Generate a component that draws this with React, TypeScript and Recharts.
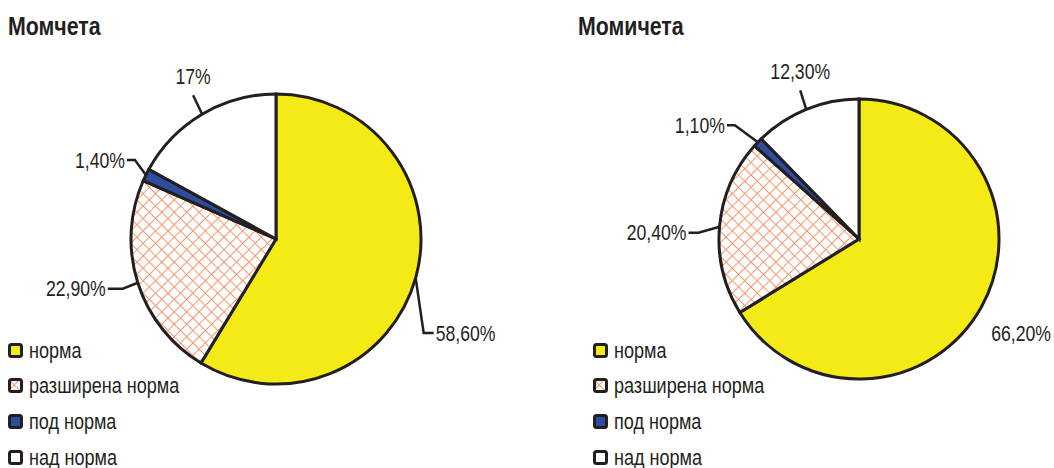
import React from "react";
import { PieChart, Pie, Cell, Legend } from "recharts";

const categories = ["норма", "разширена норма", "под норма", "над норма"];
const boysValues = [58.6, 22.9, 1.4, 17];
const boysLabels = ["58,60%", "22,90%", "1,40%", "17%"];
const girlsValues = [66.2, 20.4, 1.1, 12.3];
const girlsLabels = ["66,20%", "20,40%", "1,10%", "12,30%"];

const INK = "#231f20";
const HATCH = "#f7966a";
const FONT = '"Liberation Sans", Arial, sans-serif';
const SQUEEZE = 0.82; // fake a narrow face

// leader line layout per slice: elbow offset from arc point, horizontal run, text anchor
type Leader = { dx: number; dy: number; run: number; anchor: "start" | "end" | "middle"; noLine?: boolean };

const boysLeaders: Leader[] = [
  { dx: 8, dy: 55, run: 10, anchor: "start" },
  { dx: -15, dy: 6, run: -15, anchor: "end" },
  { dx: -11, dy: -15, run: -8, anchor: "end" },
  { dx: -9, dy: -19, run: 0, anchor: "middle" },
];
const girlsLeaders: Leader[] = [
  { dx: 10, dy: 26, run: 0, anchor: "start", noLine: true },
  { dx: -21, dy: 6, run: -10, anchor: "end" },
  { dx: -23, dy: -17, run: -8, anchor: "end" },
  { dx: -6, dy: -19, run: 0, anchor: "middle" },
];

const RAD = Math.PI / 180;

function fillFor(i: number, patId: string) {
  if (i === 0) return "#f4ea16";
  if (i === 1) return `url(#${patId})`;
  if (i === 2) return "#2f4d9e";
  return "#ffffff";
}

function HatchPattern({ id }: { id: string }) {
  return (
    <pattern id={id} width={8.8} height={8.8} patternUnits="userSpaceOnUse" patternTransform="rotate(45)">
      <rect width={8.8} height={8.8} fill="#fff" />
      <line x1={0} y1={0} x2={8.8} y2={0} stroke={HATCH} strokeWidth={2} />
      <line x1={0} y1={0} x2={0} y2={8.8} stroke={HATCH} strokeWidth={2} />
    </pattern>
  );
}

function makeLabel(labels: string[], leaders: Leader[]) {
  return (props: any) => {
    const { cx, cy, midAngle, outerRadius, index } = props;
    const cfg = leaders[index];
    const px = cx + outerRadius * Math.cos(-midAngle * RAD);
    const py = cy + outerRadius * Math.sin(-midAngle * RAD);
    const ex = px + cfg.dx;
    const ey = py + cfg.dy;
    const hx = ex + cfg.run;
    let tx = hx;
    let ty = ey;
    if (cfg.noLine) {
      tx = ex;
    } else if (cfg.anchor === "middle") {
      ty = ey - 19;
    } else {
      tx = hx + (cfg.anchor === "start" ? 2 : -2);
    }
    return (
      <g>
        {!cfg.noLine && (
          <path d={`M${px},${py}L${ex},${ey}L${hx},${ey}`} stroke={INK} strokeWidth={2.5} fill="none" />
        )}
        <text
          x={0}
          y={0}
          transform={`translate(${tx},${ty}) scale(${SQUEEZE},1)`}
          textAnchor={cfg.anchor}
          dominantBaseline="central"
          fill={INK}
          style={{ fontFamily: FONT, fontSize: 21.5 }}
        >
          {labels[index]}
        </text>
      </g>
    );
  };
}

function LegendBox({ i, patId }: { i: number; patId: string }) {
  return (
    <svg width={16} height={16} style={{ marginRight: 5, flex: "none" }}>
      <defs>
        <HatchPattern id={patId + "-lg"} />
      </defs>
      <rect
        x={1.5}
        y={1.5}
        width={12}
        height={12}
        rx={2}
        fill={i === 1 ? `url(#${patId}-lg)` : fillFor(i, patId)}
        stroke={INK}
        strokeWidth={3}
      />
    </svg>
  );
}

function PiePanel({
  title,
  values,
  labels,
  leaders,
  cx,
  r,
  legendLeft,
  titleLeft,
  patId,
}: {
  title: string;
  values: number[];
  labels: string[];
  leaders: Leader[];
  cx: number;
  r: number;
  legendLeft: number;
  titleLeft: number;
  patId: string;
}) {
  const data = categories.map((name, i) => ({ name, value: values[i] }));
  return (
    <div style={{ position: "relative", width: 527, height: 468 }}>
      <div
        style={{
          position: "absolute",
          left: titleLeft,
          top: 11,
          fontFamily: FONT,
          fontWeight: "bold",
          fontSize: 26,
          color: INK,
          transform: `scaleX(${SQUEEZE})`,
          transformOrigin: "left center",
          whiteSpace: "nowrap",
          zIndex: 2,
        }}
      >
        {title}
      </div>
      <PieChart width={527} height={468} margin={{ top: 0, right: 0, bottom: 0, left: 0 }}>
        <defs>
          <HatchPattern id={patId} />
        </defs>
        <Pie
          data={data}
          dataKey="value"
          nameKey="name"
          cx={cx}
          cy={239}
          outerRadius={r}
          startAngle={90}
          endAngle={-270}
          stroke={INK}
          strokeWidth={3}
          label={makeLabel(labels, leaders)}
          labelLine={false}
          isAnimationActive={false}
        >
          {data.map((d, i) => (
            <Cell key={d.name} fill={fillFor(i, patId)} />
          ))}
        </Pie>
        <Legend
          wrapperStyle={{ position: "absolute", left: legendLeft, top: 333, width: 260 }}
          content={() => (
            <div>
              {categories.map((c, i) => (
                <div
                  key={c}
                  style={{
                    display: "flex",
                    alignItems: "center",
                    height: 35.6,
                  }}
                >
                  <LegendBox i={i} patId={patId} />
                  <span
                    style={{
                      fontFamily: FONT,
                      fontSize: 22,
                      color: INK,
                      display: "inline-block",
                      transform: `scaleX(${SQUEEZE})`,
                      transformOrigin: "left center",
                      whiteSpace: "nowrap",
                    }}
                  >
                    {c}
                  </span>
                </div>
              ))}
            </div>
          )}
        />
      </PieChart>
    </div>
  );
}

export default function App() {
  return (
    <div
      style={{
        position: "absolute",
        left: 0,
        top: 0,
        width: 1054,
        height: 468,
        display: "flex",
        background: "#fff",
        overflow: "hidden",
      }}
    >
      <PiePanel
        title="Момчета"
        values={boysValues}
        labels={boysLabels}
        leaders={boysLeaders}
        cx={276}
        r={145}
        legendLeft={8}
        titleLeft={8}
        patId="hatchBoys"
      />
      <PiePanel
        title="Момичета"
        values={girlsValues}
        labels={girlsLabels}
        leaders={girlsLeaders}
        cx={332}
        r={140}
        legendLeft={66}
        titleLeft={51}
        patId="hatchGirls"
      />
    </div>
  );
}
